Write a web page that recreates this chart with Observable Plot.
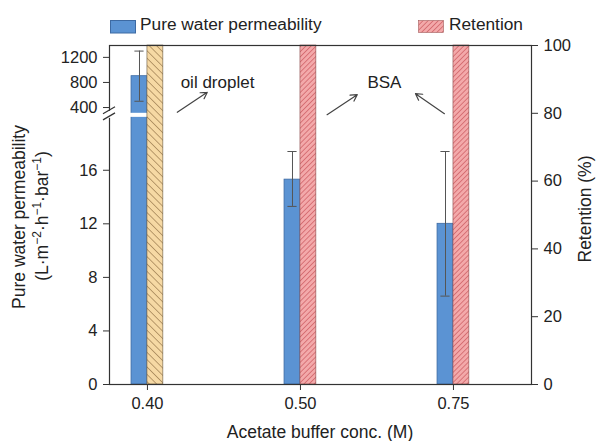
<!DOCTYPE html>
<html><head><meta charset="utf-8">
<script src="https://cdn.jsdelivr.net/npm/d3@7"></script>
<script src="https://cdn.jsdelivr.net/npm/@observablehq/plot@0.6"></script>
<style>
body{margin:0;background:#fff;font-family:"Liberation Sans",Arial,sans-serif;}
#wrap{position:relative;width:596px;height:441px;}
.leg{position:absolute;font-size:17.3px;color:#222;white-space:nowrap;line-height:18px;}
.sw{position:absolute;}
</style>
</head><body>
<svg width="0" height="0" style="position:absolute">
  <defs>
    <pattern id="hatchOrange" patternUnits="userSpaceOnUse" width="5.2" height="5.2" patternTransform="rotate(-45)">
      <rect width="5.2" height="5.2" fill="#f6d9a4"></rect>
      <line x1="0" y1="0" x2="0" y2="5.2" stroke="#7a5a30" stroke-width="1"></line>
    </pattern>
    <pattern id="hatchPink" patternUnits="userSpaceOnUse" width="3.6" height="3.6" patternTransform="rotate(45)">
      <rect width="3.6" height="3.6" fill="#f3a9aa"></rect>
      <line x1="0" y1="0" x2="0" y2="3.6" stroke="#bd3c45" stroke-width="1"></line>
    </pattern>
  </defs>
</svg>
<div id="wrap">
  <svg class="sw" style="left:110px;top:20px" width="26" height="14"><rect x="0.5" y="0.5" width="25" height="12.5" fill="#5b93d3" stroke="#3d6aa3"></rect></svg>
  <div class="leg" style="left:140px;top:15px">Pure water permeability</div>
  <svg class="sw" style="left:418px;top:20px" width="26" height="14"><rect x="0.5" y="0.5" width="25" height="12" fill="url(#hatchPink)" stroke="#a05a5a" stroke-width="0.6"></rect></svg>
  <div class="leg" style="left:449px;top:15px">Retention</div>
  <div id="chart"></div>
</div>
<script>
// ---- data ----
const concentrations = ["0.40", "0.50", "0.75"];
const permeability = [900, 15.3, 12.0];
const permErrLow = [500, 13.3, 6.6];
const permErrHigh = [1300, 17.4, 17.4];
const retention = [100, 100, 100];
const permTicksLow = [0, 4, 8, 12, 16];
const permTicksHigh = [400, 800, 1200];
const retentionTicks = [0, 20, 40, 60, 80, 100];
const annotationTexts = ["oil droplet", "BSA"];
const annotationTextX = [0.458, 1.549];
const annotationTextY = [89.2, 89.2];
const arrowX1 = [0.195, 1.174, 1.941];
const arrowY1 = [80.3, 79.6, 79.9];
const arrowX2 = [0.391, 1.371, 1.752];
const arrowY2 = [86.2, 85.5, 85.8];

// broken left axis: map permeability onto the retention (0–100) frame
const LOW_MAX = 20;            // lower segment covers 0–20
const LOW_K = 3.95;            // % per permeability unit (lower)
const HIGH_BASE = 81.7;        // position of 400 on upper segment
const HIGH_K = 0.0185;         // % per permeability unit (upper)
const BREAK_Y1 = 78.8, BREAK_Y2 = 80.0;
function permToY(p) { return p <= LOW_MAX ? p * LOW_K : HIGH_BASE + (p - 400) * HIGH_K; }

const BW = 0.104;   // bar width in category-index units
const CAP = 0.03;
const idx = concentrations.map((d, i) => i);

const allPermTicks = [...permTicksLow, ...permTicksHigh];
const leftTickPos = allPermTicks.map(permToY);
const leftTickLab = new Map(leftTickPos.map((p, k) => [p, String(allPermTicks[k])]));

const plot = Plot.plot({
  width: 596, height: 441,
  marginLeft: 109, marginRight: 65, marginTop: 45, marginBottom: 57,
  style: {fontSize: "16.5px", fontFamily: "'Liberation Sans', Arial, sans-serif", color: "#333", background: "transparent"},
  x: {type: "linear", domain: [-0.248, 2.51]},
  y: {type: "linear", domain: [0, 100]},
  marks: [
    Plot.rectY(idx, {x1: i => i - BW, x2: i => i, y1: 0, y2: i => permToY(permeability[i]), fill: "#5b93d3", stroke: "#3d6aa3", strokeWidth: 0.8}),
    Plot.rectY(idx.filter(i => permeability[i] > LOW_MAX), {x1: i => i - BW - 0.01, x2: i => i, y1: BREAK_Y1, y2: BREAK_Y2, fill: "white"}),
    Plot.ruleX(idx, {x: i => i - BW / 2, y1: i => permToY(permErrLow[i]), y2: i => permToY(permErrHigh[i]), stroke: "#555", strokeWidth: 1}),
    Plot.ruleY(idx, {y: i => permToY(permErrLow[i]), x1: i => i - BW / 2 - CAP, x2: i => i - BW / 2 + CAP, stroke: "#555", strokeWidth: 1}),
    Plot.ruleY(idx, {y: i => permToY(permErrHigh[i]), x1: i => i - BW / 2 - CAP, x2: i => i - BW / 2 + CAP, stroke: "#555", strokeWidth: 1}),
    Plot.rectY(idx.filter(i => i === 0), {x1: i => i, x2: i => i + BW, y1: 0, y2: i => retention[i], fill: "url(#hatchOrange)", stroke: "#6a5a40", strokeWidth: 0.6}),
    Plot.rectY(idx.filter(i => i > 0), {x1: i => i, x2: i => i + BW, y1: 0, y2: i => retention[i], fill: "url(#hatchPink)", stroke: "#8a4a4a", strokeWidth: 0.6}),
    Plot.text(annotationTexts, {x: (d, i) => annotationTextX[i], y: (d, i) => annotationTextY[i], text: d => d, fill: "#222", fontSize: 17}),
    Plot.arrow(arrowX1, {x1: (d, i) => arrowX1[i], y1: (d, i) => arrowY1[i], x2: (d, i) => arrowX2[i], y2: (d, i) => arrowY2[i], stroke: "#444", strokeWidth: 1.2, headLength: 9}),
    Plot.frame({stroke: "#333", strokeWidth: 1.2}),
    Plot.axisY({anchor: "left", ticks: leftTickPos, tickFormat: v => leftTickLab.get(v), label: null, tickSize: 6, tickPadding: 6, fill: "#222"}),
    Plot.axisY({anchor: "right", ticks: retentionTicks, tickFormat: d => String(d), label: null, tickSize: 6, tickPadding: 6, fill: "#222"}),
    Plot.axisX({ticks: idx, tickFormat: i => concentrations[i], label: null, tickSize: 6, tickPadding: 7, fill: "#222"})
  ]
});
document.getElementById("chart").appendChild(plot);

// axis break and titles
const svg = d3.select(plot);
const xs = plot.scale("x"), ys = plot.scale("y");
const ax = xs.apply(xs.domain[0]);
const yb1 = ys.apply(BREAK_Y1), yb2 = ys.apply(BREAK_Y2);
svg.append("rect").attr("x", ax - 3).attr("y", yb2 - 2).attr("width", 6).attr("height", yb1 - yb2 + 3).attr("fill", "white");
svg.append("line").attr("x1", ax - 6).attr("y1", yb2 + 1).attr("x2", ax + 6).attr("y2", yb2 - 6).attr("stroke", "#333").attr("stroke-width", 1.2);
svg.append("line").attr("x1", ax - 6).attr("y1", yb1 + 3).attr("x2", ax + 6).attr("y2", yb1 - 4).attr("stroke", "#333").attr("stroke-width", 1.2);

const titleSize = 17.5;
svg.append("text").attr("transform", "translate(19,217) rotate(-90)").attr("text-anchor", "middle").attr("dy", "0.35em").attr("fill", "#222").attr("font-size", titleSize).text("Pure water permeability");
const t2 = svg.append("text").attr("transform", "translate(42,216) rotate(-90)").attr("text-anchor", "middle").attr("dy", "0.35em").attr("fill", "#222").attr("font-size", titleSize);
const parts = [["(L·m", 0], ["−2", 1], ["·h", 0], ["−1", 1], ["·bar", 0], ["−1", 1], [")", 0]];
parts.forEach(([s, sup]) => {
  const ts = t2.append("tspan").text(s);
  if (sup) ts.attr("font-size", 12).attr("baseline-shift", "super");
});
svg.append("text").attr("transform", "translate(585,209) rotate(-90)").attr("text-anchor", "middle").attr("dy", "0.35em").attr("fill", "#222").attr("font-size", titleSize).text("Retention (%)");
svg.append("text").attr("x", 320).attr("y", 432).attr("text-anchor", "middle").attr("dy", "0.35em").attr("fill", "#222").attr("font-size", titleSize).text("Acetate buffer conc. (M)");
</script>
</body></html>
